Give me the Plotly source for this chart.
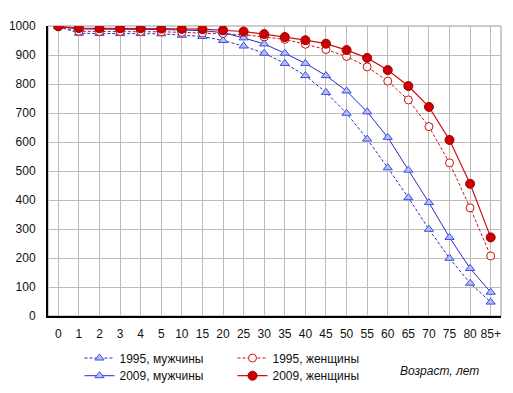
import plotly.graph_objects as go

ages = ["0", "1", "2", "3", "4", "5", "10", "15", "20", "25", "30", "35", "40",
        "45", "50", "55", "60", "65", "70", "75", "80", "85+"]
men_1995 = [998, 975, 974, 974, 974, 973, 968, 964, 950, 931, 906, 871, 829,
            771, 699, 610, 511, 408, 299, 199, 113, 48]
women_1995 = [998, 982, 981, 981, 981, 980, 978, 976, 974, 970, 962, 954, 937,
              919, 895, 859, 810, 745, 653, 528, 373, 207]
men_2009 = [998, 990, 989, 989, 989, 988, 986, 984, 977, 959, 938, 906, 871,
            829, 776, 704, 616, 503, 391, 271, 164, 82]
women_2009 = [999, 993, 992, 992, 992, 991, 990, 989, 986, 981, 972, 962, 951,
              939, 917, 890, 848, 793, 721, 607, 456, 271]
y_ticks = [0, 100, 200, 300, 400, 500, 600, 700, 800, 900, 1000]

BLUE = "#2a2ac8"
RED = "#d01010"
FONT = "Liberation Sans, Arial, sans-serif"

fig = go.Figure()
fig.add_trace(go.Scatter(
    x=ages, y=men_1995, name="1995, мужчины", mode="lines+markers",
    line=dict(color=BLUE, width=1, dash="3px,2px"),
    marker=dict(symbol="triangle-up", size=8, color="#b4bef5",
                line=dict(color="#3b4fe0", width=1)),
    legend="legend"))
fig.add_trace(go.Scatter(
    x=ages, y=women_1995, name="1995, женщины", mode="lines+markers",
    line=dict(color=RED, width=1, dash="3px,2px"),
    marker=dict(symbol="circle", size=8, color="white",
                line=dict(color=RED, width=1)),
    legend="legend"))
fig.add_trace(go.Scatter(
    x=ages, y=men_2009, name="2009, мужчины", mode="lines+markers",
    line=dict(color=BLUE, width=1),
    marker=dict(symbol="triangle-up", size=8, color="#b4bef5",
                line=dict(color="#3b4fe0", width=1)),
    legend="legend2"))
fig.add_trace(go.Scatter(
    x=ages, y=women_2009, name="2009, женщины", mode="lines+markers",
    line=dict(color=RED, width=1.2),
    marker=dict(symbol="circle", size=9, color="#cc0000",
                line=dict(color="#a00000", width=1)),
    legend="legend2"))

legend_common = dict(
    orientation="h", xref="container", yref="container", xanchor="left",
    yanchor="middle", entrywidth=108, entrywidthmode="pixels", itemwidth=30,
    font=dict(family=FONT, size=12, color="#111111"),
    bgcolor="rgba(0,0,0,0)", traceorder="normal", tracegroupgap=0,
)

fig.update_layout(
    width=513, height=393,
    margin=dict(l=48, r=12, t=26, b=77, autoexpand=False),
    paper_bgcolor="white", plot_bgcolor="white",
    font=dict(family=FONT, size=12, color="#111111"),
    showlegend=True,
    legend=dict(x=0.155, y=0.089, **legend_common),
    legend2=dict(x=0.155, y=0.044, **legend_common),
    xaxis=dict(
        type="category", categoryorder="array", categoryarray=ages,
        range=[-0.5, 21.5], showgrid=True, gridcolor="#bcbcbc", gridwidth=1,
        showline=True, linecolor="black", linewidth=2, mirror=False,
        ticks="", tickfont=dict(size=12), ticklabelstandoff=6, zeroline=False,
        automargin=False,
    ),
    yaxis=dict(
        range=[0, 1000], tickvals=y_ticks, showgrid=True, gridcolor="#bcbcbc",
        gridwidth=1, showline=True, linecolor="black", linewidth=2,
        ticks="", tickfont=dict(size=12), zeroline=False, ticklabelstandoff=8,
        automargin=False,
    ),
    shapes=[dict(type="rect", xref="paper", yref="paper", x0=0, y0=0, x1=1, y1=1,
                 line=dict(color="#999999", width=1), layer="below")],
    annotations=[dict(text="<i>Возраст, лет</i>", xref="paper", yref="paper",
                      x=0.865, y=-0.188, showarrow=False, xanchor="center",
                      yanchor="middle", font=dict(family=FONT, size=12))],
)

fig.write_html("out.html", config={"displayModeBar": False},
               post_script="document.body.style.margin='0';")
